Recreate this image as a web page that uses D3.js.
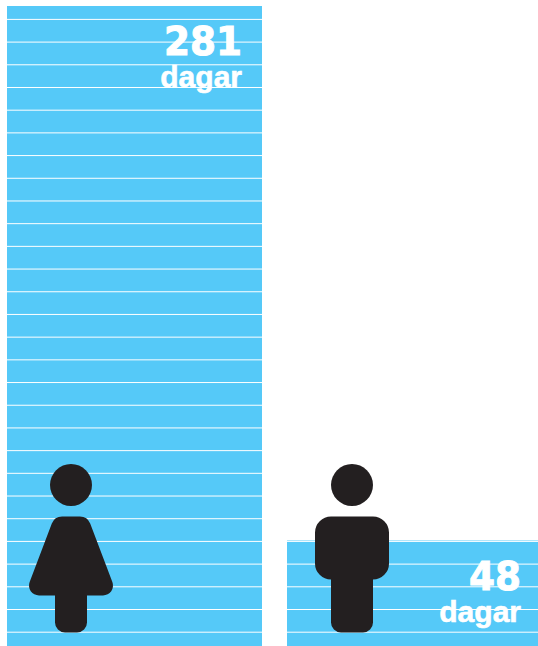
<!DOCTYPE html>
<html>
<head>
<meta charset="utf-8">
<script src="https://cdn.jsdelivr.net/npm/d3@7"></script>
<style>
  html, body { margin: 0; padding: 0; background: #fff; overflow: hidden; }
  svg { display: block; }
</style>
</head>
<body>
<div id="chart"></div>
<script>
// data
let groups = ["kvinna", "man"];
let days = [281, 48];
let unitLabel = "dagar";
let ruleRows = d3.range(0, 28);

let width = 538, height = 646;

let svg = d3.select("#chart")
  .append("svg")
  .attr("width", width)
  .attr("height", height);

// second bar runs off the right edge, same as the first one in width
var x = d3.scaleBand()
  .domain(groups)
  .range([7, 542])
  .paddingInner(25 / 280);

// bottom is cropped by the page
var y = d3.scaleLinear()
  .domain([0, 281])
  .range([650.6, 6]);

// white rules, counted from the bottom up
var ruleY = d3.scaleLinear()
  .domain([0, 27])
  .range([632.2, 19.4]);

let barColor = "#55c9f8";
let iconColor = "#231f20";

let bars = svg.selectAll("g.bar")
  .data(groups)
  .enter()
  .append("g")
  .attr("class", "bar");

bars.append("rect")
  .attr("x", d => x(d))
  .attr("y", (d, i) => y(days[i]))
  .attr("width", x.bandwidth())
  .attr("height", (d, i) => y(0) - y(days[i]))
  .style("fill", barColor);

bars.each(function (d, i) {
  d3.select(this).selectAll("line")
    .data(ruleRows.filter(r => ruleY(r) >= y(days[i])))
    .enter()
    .append("line")
    .attr("x1", x(d))
    .attr("x2", x(d) + x.bandwidth())
    .attr("y1", r => ruleY(r))
    .attr("y2", r => ruleY(r))
    .style("stroke", "#fff")
    .style("stroke-width", 1);
});

// rounded polygon helper for the pictograms
let roundedPath = (pts) => {
  let p = d3.path();
  let n = pts.length;
  let a = pts[n - 1], b = pts[0];
  p.moveTo((a[0] + b[0]) / 2, (a[1] + b[1]) / 2);
  pts.forEach((pt, i) => {
    let next = pts[(i + 1) % n];
    p.arcTo(pt[0], pt[1], next[0], next[1], pt[2]);
  });
  p.closePath();
  return p.toString();
};

// icon shapes, origin at the head's centre
let womanBody = [
  [-16.5, 31.5, 11], [16.5, 31.5, 11], [46.5, 110.5, 10], [16, 110.5, 0],
  [16, 147.5, 10], [-16, 147.5, 10], [-16, 110.5, 0], [-46.5, 110.5, 10]
];
let manBody = [
  [-37, 31.5, 16], [37, 31.5, 16], [37, 94.5, 16], [21, 94.5, 0],
  [21, 147.5, 10], [-21, 147.5, 10], [-21, 94.5, 0], [-37, 94.5, 16]
];
let iconBodies = [womanBody, manBody];
let iconInset = [64, 65];

let icons = svg.selectAll("g.icon")
  .data(groups)
  .enter()
  .append("g")
  .attr("class", "icon")
  .attr("transform", (d, i) => "translate(" + (x(d) + iconInset[i]) + ",485)");

icons.append("circle")
  .attr("r", 21)
  .style("fill", iconColor);

icons.append("path")
  .attr("d", (d, i) => roundedPath(iconBodies[i]))
  .style("fill", iconColor);

// value labels
let labelRight = [20, 21];
let valueBase = [55, 590];
let unitBase = [87, 622];
let valueWidth = [78, 52];

bars.append("text")
  .attr("x", (d, i) => x(d) + x.bandwidth() - labelRight[i])
  .attr("y", (d, i) => valueBase[i])
  .attr("text-anchor", "end")
  .attr("textLength", (d, i) => valueWidth[i])
  .attr("lengthAdjust", "spacingAndGlyphs")
  .style("font-family", "'DejaVu Sans'")
  .style("font-weight", "bold")
  .style("font-size", "39px")
  .style("fill", "#fff")
  .style("stroke", "#fff")
  .style("stroke-width", 1)
  .text((d, i) => days[i]);

bars.append("text")
  .attr("x", (d, i) => x(d) + x.bandwidth() - labelRight[i])
  .attr("y", (d, i) => unitBase[i])
  .attr("text-anchor", "end")
  .style("font-family", "'Liberation Sans'")
  .style("font-weight", "bold")
  .style("font-size", "30px")
  .style("fill", "#fff")
  .style("stroke", "#fff")
  .style("stroke-width", 0.6)
  .text(unitLabel);
</script>
</body>
</html>
